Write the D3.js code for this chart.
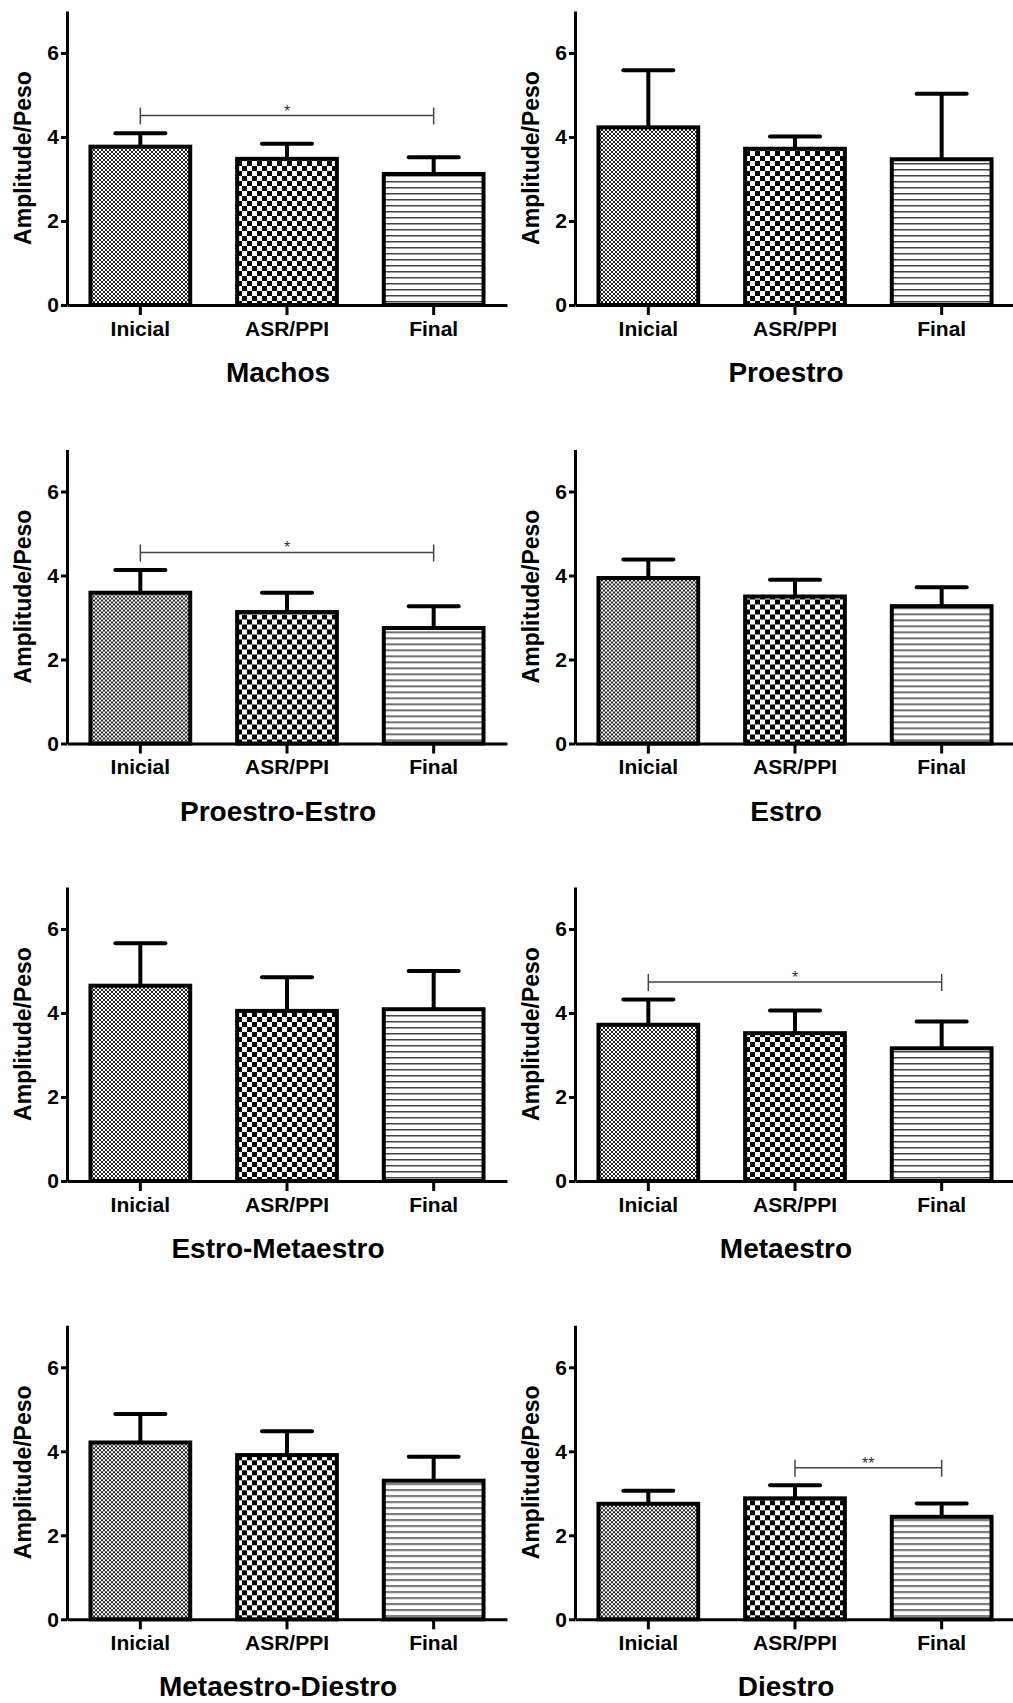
<!DOCTYPE html>
<html>
<head>
<meta charset="utf-8">
<script src="https://cdn.jsdelivr.net/npm/d3@7"></script>
<style>
  body { margin: 0; background: #fff; }
  text { font-family: "Liberation Sans", Arial, sans-serif; font-weight: bold; }
</style>
</head>
<body>
<script>
var width = 1013;
var height = 1703;

// data
var conditions = ["Inicial", "ASR/PPI", "Final"];
var groups = ["Machos", "Proestro", "Proestro-Estro", "Estro",
              "Estro-Metaestro", "Metaestro", "Metaestro-Diestro", "Diestro"];
var means = [
    [3.77, 3.48, 3.12],
    [4.23, 3.72, 3.47],
    [3.59, 3.13, 2.75],
    [3.94, 3.50, 3.27],
    [4.65, 4.05, 4.09],
    [3.72, 3.52, 3.16],
    [4.21, 3.91, 3.30],
    [2.75, 2.88, 2.44]
];
var sems = [
    [0.32, 0.36, 0.40],
    [1.36, 0.29, 1.56],
    [0.54, 0.46, 0.52],
    [0.44, 0.40, 0.45],
    [1.01, 0.80, 0.91],
    [0.60, 0.54, 0.64],
    [0.68, 0.57, 0.57],
    [0.31, 0.31, 0.32]
];
// significance brackets: group index, from condition, to condition, label
var sigGroup = [0, 2, 5, 7];
var sigFrom = [0, 0, 0, 1];
var sigTo = [2, 2, 2, 2];
var sigLabel = ["*", "*", "*", "**"];
var yTicks = [0, 2, 4, 6];

// layout
var colAxisX = [67, 575];
var rowZeroY = [305, 743.5, 1181, 1619.3];
var plotW = 440;
var plotH = 294;
var patterns = ["fine", "coarse", "lines"];

var svg = d3.select("body").append("svg")
    .attr("width", width)
    .attr("height", height);

svg.append("rect")
    .attr("width", width).attr("height", height).attr("fill", "#fff");

var defs = svg.append("defs");

// fine checker
var p1 = defs.append("pattern").attr("id", "fine")
    .attr("patternUnits", "userSpaceOnUse").attr("width", 4).attr("height", 4);
p1.append("rect").attr("width", 4).attr("height", 4).attr("fill", "#fff");
p1.append("rect").attr("width", 2).attr("height", 2).attr("fill", "#222");
p1.append("rect").attr("x", 2).attr("y", 2).attr("width", 2).attr("height", 2).attr("fill", "#222");

// coarse checker
var p2 = defs.append("pattern").attr("id", "coarse")
    .attr("patternUnits", "userSpaceOnUse").attr("width", 10).attr("height", 10);
p2.append("rect").attr("width", 10).attr("height", 10).attr("fill", "#fff");
p2.append("rect").attr("width", 5).attr("height", 5).attr("fill", "#000");
p2.append("rect").attr("x", 5).attr("y", 5).attr("width", 5).attr("height", 5).attr("fill", "#000");

// horizontal lines
var p3 = defs.append("pattern").attr("id", "lines")
    .attr("patternUnits", "userSpaceOnUse").attr("width", 6).attr("height", 6);
p3.append("rect").attr("width", 6).attr("height", 6).attr("fill", "#fff");
p3.append("rect").attr("y", 2).attr("width", 6).attr("height", 1.5).attr("fill", "#444");

groups.forEach(function(name, gi) {
    var col = gi % 2;
    var row = Math.floor(gi / 2);
    var ax = colAxisX[col];
    var zy = rowZeroY[row];

    var g = svg.append("g").attr("transform", "translate(" + ax + "," + (zy - plotH) + ")");

    var x = d3.scaleBand()
        .domain(conditions)
        .range([0, plotW])
        .paddingInner(0.32)
        .paddingOuter(0.16);

    var y = d3.scaleLinear()
        .domain([0, 7])
        .range([plotH, 0]);

    // bars
    g.selectAll(".bar")
        .data(conditions)
        .enter().append("rect")
        .attr("x", function(d) { return x(d); })
        .attr("y", function(d, i) { return y(means[gi][i]); })
        .attr("width", x.bandwidth())
        .attr("height", function(d, i) { return y(0) - y(means[gi][i]); })
        .attr("fill", function(d, i) { return "url(#" + patterns[i] + ")"; })
        .attr("stroke", "#000")
        .attr("stroke-width", 4);

    // error bars
    conditions.forEach(function(c, i) {
        var cx = x(c) + x.bandwidth() / 2;
        var top = y(means[gi][i] + sems[gi][i]);
        g.append("line")
            .attr("x1", cx).attr("x2", cx)
            .attr("y1", y(means[gi][i])).attr("y2", top)
            .attr("stroke", "#000").attr("stroke-width", 4);
        g.append("line")
            .attr("x1", cx - 25).attr("x2", cx + 25)
            .attr("y1", top).attr("y2", top)
            .attr("stroke", "#000").attr("stroke-width", 4)
            .attr("stroke-linecap", "round");
    });

    // axes
    var yAxis = g.append("g")
        .call(d3.axisLeft(y).tickValues(yTicks).tickFormat(d3.format("d"))
            .tickSize(6).tickSizeOuter(0).tickPadding(2));
    var xAxis = g.append("g")
        .attr("transform", "translate(0," + plotH + ")")
        .call(d3.axisBottom(x).tickSize(10).tickSizeOuter(0).tickPadding(6));

    [yAxis, xAxis].forEach(function(a) {
        a.select(".domain").attr("stroke", "#000").attr("stroke-width", 3);
        a.selectAll(".tick line").attr("stroke", "#000").attr("stroke-width", 3);
        a.selectAll("text")
            .attr("fill", "#000")
            .style("font-size", "21px")
            .style("font-family", "'Liberation Sans', Arial, sans-serif")
            .style("font-weight", "bold");
    });

    // y label
    g.append("text")
        .attr("transform", "translate(-44.5," + (plotH / 2) + ") rotate(-90)")
        .attr("text-anchor", "middle")
        .attr("dy", "0.35em")
        .style("font-size", "23px")
        .text("Amplitude/Peso");

    // title
    g.append("text")
        .attr("x", plotW / 2 - 9)
        .attr("y", plotH + 77)
        .attr("text-anchor", "middle")
        .style("font-size", "28px")
        .text(name);

    // significance
    sigGroup.forEach(function(sg, k) {
        if (sg !== gi) return;
        var a = x(conditions[sigFrom[k]]) + x.bandwidth() / 2;
        var b = x(conditions[sigTo[k]]) + x.bandwidth() / 2;
        var hi = 0;
        for (var i = sigFrom[k]; i <= sigTo[k]; i++) {
            hi = Math.max(hi, means[gi][i] + sems[gi][i]);
        }
        var ly = y(hi + 0.42);
        g.append("path")
            .attr("d", "M" + a + "," + (ly - 8) + "V" + (ly + 9) +
                       "M" + a + "," + ly + "H" + b +
                       "M" + b + "," + (ly - 8) + "V" + (ly + 9))
            .attr("fill", "none")
            .attr("stroke", "#444")
            .attr("stroke-width", 1.5);
        g.append("text")
            .attr("x", (a + b) / 2)
            .attr("y", ly + 1)
            .attr("text-anchor", "middle")
            .attr("fill", "#333")
            .style("font-size", "16px")
            .style("font-weight", "normal")
            .text(sigLabel[k]);
    });
});
</script>
</body>
</html>
